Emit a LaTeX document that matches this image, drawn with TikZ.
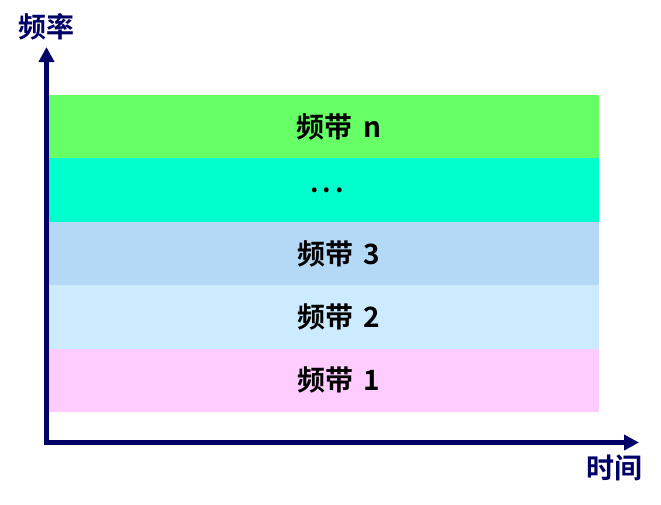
\documentclass[tikz,border=0pt]{standalone}
\usepackage{fontspec}
\newfontfamily\cjk{Noto Sans CJK SC Bold}
\usetikzlibrary{arrows.meta}
\definecolor{axisblue}{HTML}{000066}
\definecolor{bandn}{HTML}{66FF66}
\definecolor{bandd}{HTML}{00FFCC}
\definecolor{bandc}{HTML}{B3D9F7}
\definecolor{bandb}{HTML}{CCEBFF}
\definecolor{banda}{HTML}{FFCCFF}
\tikzset{
  band/.style={minimum width=550pt, minimum height=63.4pt, inner sep=0pt, outer sep=0pt, anchor=north west, font=\cjk\fontsize{28}{30}\selectfont, text=black},
  shifted/.style={execute at begin node={\hspace*{30pt}}},
  axis/.style={draw=axisblue, line width=5pt, -{Triangle[length=15pt,width=15pt]}},
  axlabel/.style={font=\cjk\fontsize{28}{30}\selectfont, text=axisblue, inner sep=0pt}
}
\begin{document}
\begin{tikzpicture}[x=1pt,y=-1pt]
\useasboundingbox (0,0) rectangle (661,504);
\node[band, shifted, fill=bandn] (bn) at (49,95) {频带\hspace{4pt} n};
\node[band, fill=bandd] (bd) at (49,158.4) {\hspace*{6pt}\fontsize{26}{28}\selectfont .\hspace{4pt}.\hspace{4pt}.};
\node[band, shifted, fill=bandc] (bc) at (49,221.8) {频带\hspace{4pt} 3};
\node[band, shifted, fill=bandb] (bb) at (49,285.2) {频带\hspace{4pt} 2};
\node[band, shifted, fill=banda] (ba) at (49,348.6) {频带\hspace{4pt} 1};
\coordinate (ytip) at (46.5,47);
\coordinate (xtip) at (639,442.5);
\draw[axis] (46.5,445) -- (ytip);
\draw[axis] (44,442.5) -- (xtip);
\node[axlabel] (fl) at (46.5,27) {频率};
\node[axlabel] (tl) at (614.5,468) {时间};
\end{tikzpicture}
\end{document}
